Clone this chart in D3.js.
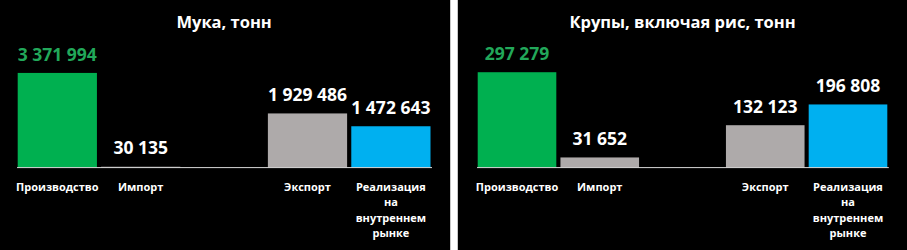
<!DOCTYPE html>
<html>
<head>
<meta charset="utf-8">
<script src="https://cdn.jsdelivr.net/npm/d3@7"></script>
<style>
  html, body { margin: 0; padding: 0; background: #000; }
  svg { display: block; }
  text { font-family: "Open Sans", "Noto Sans", sans-serif; font-weight: bold; }
</style>
</head>
<body>
<script>
// ---- data ----
const categories = ["Производство", "Импорт", "", "Экспорт", "Реализация на внутреннем рынке"];
const categoryLines = [["Производство"], ["Импорт"], [], ["Экспорт"], ["Реализация", "на", "внутреннем", "рынке"]];
const flourTitle = "Мука, тонн";
const flourValues = [3371994, 30135, null, 1929486, 1472643];
const flourAxisMax = 4000000;
const grainTitle = "Крупы, включая рис, тонн";
const grainValues = [297279, 31652, null, 132123, 196808];
const grainAxisMax = 350000;
const barColors = ["#00B050", "#AEAAAA", null, "#AEAAAA", "#00B0F0"];
const labelColors = ["#22A85A", "#FFFFFF", null, "#FFFFFF", "#FFFFFF"];

const W = 907, H = 250;
const svg = d3.select("body").append("svg").attr("width", W).attr("height", H);
svg.append("rect").attr("width", W).attr("height", H).attr("fill", "#000");

// separator between panels
svg.append("rect").attr("x", 450).attr("y", 0).attr("width", 8).attr("height", H).attr("fill", "#fff");
svg.append("line").attr("x1", 450.5).attr("x2", 450.5).attr("y1", 0).attr("y2", H).attr("stroke", "#c8c8c8");
svg.append("line").attr("x1", 457.5).attr("x2", 457.5).attr("y1", 0).attr("y2", H).attr("stroke", "#c8c8c8");

const fmt = d3.formatLocale({ decimal: ",", thousands: " ", grouping: [3], currency: ["", ""] }).format(",");

function drawPanel(title, values, axisMax, x0, x1) {
  const g = svg.append("g");
  const x = d3.scaleBand().domain(categories).range([x0, x1]).paddingInner(0.05).paddingOuter(0);
  const y = d3.scaleLinear().domain([0, axisMax]).range([167.6, 55.3]);

  g.append("text")
    .attr("x", (x0 + x1) / 2).attr("y", 28.3)
    .attr("text-anchor", "middle").attr("fill", "#fff")
    .style("font-size", "16.5px")
    .text(title);

  const data = categories.map((c, i) => ({ c, v: values[i], i })).filter(d => d.v != null);

  g.selectAll("rect.bar").data(data).join("rect")
    .attr("class", "bar")
    .attr("x", d => x(d.c))
    .attr("width", x.bandwidth())
    .attr("y", d => y(d.v))
    .attr("height", d => y(0) - y(d.v))
    .attr("fill", d => barColors[d.i]);

  g.selectAll("text.val").data(data).join("text")
    .attr("class", "val")
    .attr("x", d => x(d.c) + x.bandwidth() / 2)
    .attr("y", d => y(d.v) - 12.3)
    .attr("text-anchor", "middle")
    .attr("fill", d => labelColors[d.i])
    .style("font-size", "17.5px")
    .text(d => fmt(d.v));

  g.append("line")
    .attr("x1", x0 - 0.7).attr("x2", x1 + 1.5)
    .attr("y1", y(0)).attr("y2", y(0))
    .attr("stroke", "#d9d9d9").attr("stroke-width", 1);

  categories.forEach((c, i) => {
    const t = g.append("text")
      .attr("x", x(c) + x.bandwidth() / 2)
      .attr("y", 190.7)
      .attr("text-anchor", "middle")
      .attr("fill", "#fff")
      .style("font-size", "11px");
    categoryLines[i].forEach((line, k) => {
      t.append("tspan")
        .attr("x", x(c) + x.bandwidth() / 2)
        .attr("y", 190.7 + k * 15.5)
        .text(line);
    });
  });
}

drawPanel(flourTitle, flourValues, flourAxisMax, 17.7, 430.5);
drawPanel(grainTitle, grainValues, grainAxisMax, 477.7, 887.3);
</script>
</body>
</html>
